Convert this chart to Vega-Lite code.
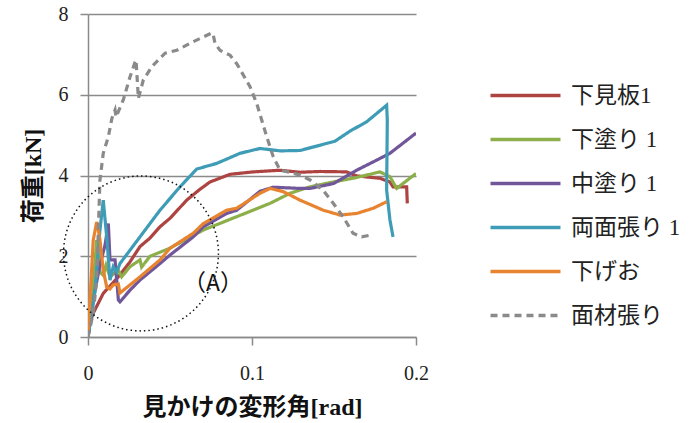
{
  "$schema": "https://vega.github.io/schema/vega-lite/v6.json",
  "autosize": "none",
  "width": 328,
  "height": 323,
  "padding": {"left": 88, "top": 14, "right": 276, "bottom": 86},
  "background": "white",
  "config": {
    "view": {"stroke": null},
    "axis": {
      "labelFont": "Liberation Serif",
      "labelFontSize": 20,
      "labelColor": "#222",
      "titleFont": "Liberation Serif, Noto Sans CJK JP",
      "titleFontSize": 24,
      "titleFontWeight": "bold",
      "titleColor": "#111",
      "domainColor": "#8a8a8a",
      "domainWidth": 1.5,
      "tickColor": "#8a8a8a",
      "tickWidth": 1.5,
      "tickSize": 8,
      "gridColor": "#8a8a8a",
      "gridWidth": 1.5
    }
  },
  "datasets": {
    "curves": [
      {"s":"下見板1","i":0,"x":0,"y":0},
      {"s":"下見板1","i":1,"x":0.0012,"y":0.35},
      {"s":"下見板1","i":2,"x":0.0032,"y":0.59},
      {"s":"下見板1","i":3,"x":0.0093,"y":1.08},
      {"s":"下見板1","i":4,"x":0.0185,"y":1.49},
      {"s":"下見板1","i":5,"x":0.0256,"y":1.86},
      {"s":"下見板1","i":6,"x":0.0317,"y":2.24},
      {"s":"下見板1","i":7,"x":0.0378,"y":2.45},
      {"s":"下見板1","i":8,"x":0.0439,"y":2.73},
      {"s":"下見板1","i":9,"x":0.05,"y":2.94},
      {"s":"下見板1","i":10,"x":0.0602,"y":3.39},
      {"s":"下見板1","i":11,"x":0.0683,"y":3.66},
      {"s":"下見板1","i":12,"x":0.0744,"y":3.84},
      {"s":"下見板1","i":13,"x":0.0866,"y":4.03},
      {"s":"下見板1","i":14,"x":0.1008,"y":4.09},
      {"s":"下見板1","i":15,"x":0.1171,"y":4.13},
      {"s":"下見板1","i":16,"x":0.1293,"y":4.08},
      {"s":"下見板1","i":17,"x":0.1415,"y":4.1},
      {"s":"下見板1","i":18,"x":0.1577,"y":4.09},
      {"s":"下見板1","i":19,"x":0.1638,"y":3.99},
      {"s":"下見板1","i":20,"x":0.178,"y":3.93},
      {"s":"下見板1","i":21,"x":0.1841,"y":3.84},
      {"s":"下見板1","i":22,"x":0.186,"y":3.72},
      {"s":"下見板1","i":23,"x":0.1943,"y":3.72},
      {"s":"下見板1","i":24,"x":0.1947,"y":3.31},

      {"s":"下塗り 1","i":0,"x":0,"y":0},
      {"s":"下塗り 1","i":1,"x":0.0024,"y":0.92},
      {"s":"下塗り 1","i":2,"x":0.0053,"y":2.4},
      {"s":"下塗り 1","i":3,"x":0.0073,"y":1.61},
      {"s":"下塗り 1","i":4,"x":0.0093,"y":1.53},
      {"s":"下塗り 1","i":5,"x":0.011,"y":1.78},
      {"s":"下塗り 1","i":6,"x":0.0134,"y":1.49},
      {"s":"下塗り 1","i":7,"x":0.0185,"y":1.66},
      {"s":"下塗り 1","i":8,"x":0.0205,"y":1.49},
      {"s":"下塗り 1","i":9,"x":0.0256,"y":1.74},
      {"s":"下塗り 1","i":10,"x":0.0317,"y":1.91},
      {"s":"下塗り 1","i":11,"x":0.0327,"y":1.73},
      {"s":"下塗り 1","i":12,"x":0.0378,"y":2.0},
      {"s":"下塗り 1","i":13,"x":0.0439,"y":2.1},
      {"s":"下塗り 1","i":14,"x":0.05,"y":2.2},
      {"s":"下塗り 1","i":15,"x":0.0703,"y":2.65},
      {"s":"下塗り 1","i":16,"x":0.0907,"y":2.98},
      {"s":"下塗り 1","i":17,"x":0.111,"y":3.31},
      {"s":"下塗り 1","i":18,"x":0.1232,"y":3.56},
      {"s":"下塗り 1","i":19,"x":0.1354,"y":3.72},
      {"s":"下塗り 1","i":20,"x":0.1496,"y":3.84},
      {"s":"下塗り 1","i":21,"x":0.1638,"y":3.95},
      {"s":"下塗り 1","i":22,"x":0.178,"y":4.09},
      {"s":"下塗り 1","i":23,"x":0.1841,"y":3.97},
      {"s":"下塗り 1","i":24,"x":0.1882,"y":3.68},
      {"s":"下塗り 1","i":25,"x":0.1933,"y":3.84},
      {"s":"下塗り 1","i":26,"x":0.2,"y":4.05},

      {"s":"中塗り 1","i":0,"x":0,"y":0},
      {"s":"中塗り 1","i":1,"x":0.0043,"y":1.16},
      {"s":"中塗り 1","i":2,"x":0.0073,"y":1.78},
      {"s":"中塗り 1","i":3,"x":0.0104,"y":2.28},
      {"s":"中塗り 1","i":4,"x":0.0124,"y":2.81},
      {"s":"中塗り 1","i":5,"x":0.0134,"y":1.91},
      {"s":"中塗り 1","i":6,"x":0.0165,"y":1.91},
      {"s":"中塗り 1","i":7,"x":0.0185,"y":0.92},
      {"s":"中塗り 1","i":8,"x":0.0195,"y":0.87},
      {"s":"中塗り 1","i":9,"x":0.0256,"y":1.16},
      {"s":"中塗り 1","i":10,"x":0.0317,"y":1.41},
      {"s":"中塗り 1","i":11,"x":0.0439,"y":1.82},
      {"s":"中塗り 1","i":12,"x":0.05,"y":2.03},
      {"s":"中塗り 1","i":13,"x":0.0642,"y":2.48},
      {"s":"中塗り 1","i":14,"x":0.0703,"y":2.73},
      {"s":"中塗り 1","i":15,"x":0.0846,"y":3.06},
      {"s":"中塗り 1","i":16,"x":0.0907,"y":3.14},
      {"s":"中塗り 1","i":17,"x":0.1049,"y":3.61},
      {"s":"中塗り 1","i":18,"x":0.113,"y":3.71},
      {"s":"中塗り 1","i":19,"x":0.1293,"y":3.68},
      {"s":"中塗り 1","i":20,"x":0.1354,"y":3.68},
      {"s":"中塗り 1","i":21,"x":0.1496,"y":3.8},
      {"s":"中塗り 1","i":22,"x":0.1638,"y":4.13},
      {"s":"中塗り 1","i":23,"x":0.176,"y":4.38},
      {"s":"中塗り 1","i":24,"x":0.1841,"y":4.55},
      {"s":"中塗り 1","i":25,"x":0.2,"y":5.05},

      {"s":"両面張り 1","i":0,"x":0,"y":0},
      {"s":"両面張り 1","i":1,"x":0.0043,"y":1.16},
      {"s":"両面張り 1","i":2,"x":0.0073,"y":2.65},
      {"s":"両面張り 1","i":3,"x":0.0093,"y":3.39},
      {"s":"両面張り 1","i":4,"x":0.0114,"y":2.48},
      {"s":"両面張り 1","i":5,"x":0.0134,"y":1.41},
      {"s":"両面張り 1","i":6,"x":0.0154,"y":1.74},
      {"s":"両面張り 1","i":7,"x":0.0175,"y":1.61},
      {"s":"両面張り 1","i":8,"x":0.0195,"y":1.82},
      {"s":"両面張り 1","i":9,"x":0.0256,"y":2.15},
      {"s":"両面張り 1","i":10,"x":0.0317,"y":2.48},
      {"s":"両面張り 1","i":11,"x":0.0439,"y":3.14},
      {"s":"両面張り 1","i":12,"x":0.0561,"y":3.72},
      {"s":"両面張り 1","i":13,"x":0.0663,"y":4.16},
      {"s":"両面張り 1","i":14,"x":0.0785,"y":4.3},
      {"s":"両面張り 1","i":15,"x":0.0927,"y":4.55},
      {"s":"両面張り 1","i":16,"x":0.1049,"y":4.67},
      {"s":"両面張り 1","i":17,"x":0.1171,"y":4.61},
      {"s":"両面張り 1","i":18,"x":0.1293,"y":4.62},
      {"s":"両面張り 1","i":19,"x":0.1415,"y":4.75},
      {"s":"両面張り 1","i":20,"x":0.1506,"y":4.85},
      {"s":"両面張り 1","i":21,"x":0.1598,"y":5.1},
      {"s":"両面張り 1","i":22,"x":0.1699,"y":5.33},
      {"s":"両面張り 1","i":23,"x":0.1821,"y":5.74},
      {"s":"両面張り 1","i":24,"x":0.1825,"y":5.37},
      {"s":"両面張り 1","i":25,"x":0.1821,"y":3.64},
      {"s":"両面張り 1","i":26,"x":0.1841,"y":2.9},
      {"s":"両面張り 1","i":27,"x":0.186,"y":2.48},

      {"s":"下げお","i":0,"x":0,"y":0},
      {"s":"下げお","i":1,"x":0.0012,"y":0.92},
      {"s":"下げお","i":2,"x":0.0032,"y":2.4},
      {"s":"下げお","i":3,"x":0.0053,"y":2.85},
      {"s":"下げお","i":4,"x":0.0063,"y":2.65},
      {"s":"下げお","i":5,"x":0.0073,"y":2.4},
      {"s":"下げお","i":6,"x":0.0093,"y":1.66},
      {"s":"下げお","i":7,"x":0.0114,"y":1.24},
      {"s":"下げお","i":8,"x":0.0134,"y":1.19},
      {"s":"下げお","i":9,"x":0.0154,"y":1.29},
      {"s":"下げお","i":10,"x":0.0185,"y":1.31},
      {"s":"下げお","i":11,"x":0.0195,"y":1.09},
      {"s":"下げお","i":12,"x":0.0256,"y":1.29},
      {"s":"下げお","i":13,"x":0.0317,"y":1.49},
      {"s":"下げお","i":14,"x":0.0439,"y":1.91},
      {"s":"下げお","i":15,"x":0.05,"y":2.2},
      {"s":"下げお","i":16,"x":0.0642,"y":2.57},
      {"s":"下げお","i":17,"x":0.0703,"y":2.81},
      {"s":"下げお","i":18,"x":0.0846,"y":3.14},
      {"s":"下げお","i":19,"x":0.0907,"y":3.19},
      {"s":"下げお","i":20,"x":0.1049,"y":3.56},
      {"s":"下げお","i":21,"x":0.111,"y":3.68},
      {"s":"下げお","i":22,"x":0.1191,"y":3.6},
      {"s":"下げお","i":23,"x":0.1293,"y":3.39},
      {"s":"下げお","i":24,"x":0.1435,"y":3.14},
      {"s":"下げお","i":25,"x":0.1537,"y":3.02},
      {"s":"下げお","i":26,"x":0.1638,"y":3.06},
      {"s":"下げお","i":27,"x":0.174,"y":3.19},
      {"s":"下げお","i":28,"x":0.1821,"y":3.35},

      {"s":"面材張り","i":0,"x":0,"y":0},
      {"s":"面材張り","i":1,"x":0.0032,"y":0.59},
      {"s":"面材張り","i":2,"x":0.0053,"y":1.41},
      {"s":"面材張り","i":3,"x":0.0073,"y":3.89},
      {"s":"面材張り","i":4,"x":0.0093,"y":4.55},
      {"s":"面材張り","i":5,"x":0.0124,"y":4.96},
      {"s":"面材張り","i":6,"x":0.0146,"y":5.42},
      {"s":"面材張り","i":7,"x":0.0165,"y":5.62},
      {"s":"面材張り","i":8,"x":0.0171,"y":5.45},
      {"s":"面材張り","i":9,"x":0.0215,"y":5.87},
      {"s":"面材張り","i":10,"x":0.0256,"y":6.44},
      {"s":"面材張り","i":11,"x":0.0287,"y":6.81},
      {"s":"面材張り","i":12,"x":0.0293,"y":6.86},
      {"s":"面材張り","i":13,"x":0.0307,"y":5.91},
      {"s":"面材張り","i":14,"x":0.0337,"y":6.36},
      {"s":"面材張り","i":15,"x":0.0388,"y":6.69},
      {"s":"面材張り","i":16,"x":0.047,"y":7.03},
      {"s":"面材張り","i":17,"x":0.0541,"y":7.1},
      {"s":"面材張り","i":18,"x":0.064,"y":7.31},
      {"s":"面材張り","i":19,"x":0.0754,"y":7.53},
      {"s":"面材張り","i":20,"x":0.0762,"y":7.52},
      {"s":"面材張り","i":21,"x":0.0774,"y":7.28},
      {"s":"面材張り","i":22,"x":0.0805,"y":7.1},
      {"s":"面材張り","i":23,"x":0.0866,"y":6.98},
      {"s":"面材張り","i":24,"x":0.0907,"y":6.77},
      {"s":"面材張り","i":25,"x":0.0988,"y":6.2},
      {"s":"面材張り","i":26,"x":0.1029,"y":5.78},
      {"s":"面材張り","i":27,"x":0.109,"y":4.96},
      {"s":"面材張り","i":28,"x":0.113,"y":4.46},
      {"s":"面材張り","i":29,"x":0.1171,"y":4.13},
      {"s":"面材張り","i":30,"x":0.1232,"y":4.08},
      {"s":"面材張り","i":31,"x":0.1293,"y":4.01},
      {"s":"面材張り","i":32,"x":0.1354,"y":3.89},
      {"s":"面材張り","i":33,"x":0.1433,"y":3.64},
      {"s":"面材張り","i":34,"x":0.1494,"y":3.32},
      {"s":"面材張り","i":35,"x":0.1555,"y":2.98},
      {"s":"面材張り","i":36,"x":0.1616,"y":2.57},
      {"s":"面材張り","i":37,"x":0.1669,"y":2.48},
      {"s":"面材張り","i":38,"x":0.172,"y":2.52}
    ],
    "circle": [{"x": 0.0323, "y": 2.07}],
    "label": [{"x": 0.0762, "y": 1.31, "t": "（A）"}]
  },
  "layer": [
    {
      "data": {"name": "curves"},
      "mark": {"type": "line", "strokeWidth": 3.2, "clip": true},
      "encoding": {
        "x": {
          "field": "x", "type": "quantitative",
          "scale": {"domain": [0, 0.2], "nice": false, "zero": false},
          "axis": {"values": [0, 0.1, 0.2], "format": "~g", "grid": false, "title": "見かけの変形角[rad]", "labelFont": "Liberation Serif", "labelPadding": 18, "titlePadding": 12, "labelFlush": false}
        },
        "y": {
          "field": "y", "type": "quantitative",
          "scale": {"domain": [0, 8], "nice": false},
          "axis": {"values": [0, 2, 4, 6, 8], "grid": true, "title": "荷重[kN]", "labelFont": "Liberation Serif", "labelPadding": 12, "titlePadding": 13, "labelFlush": false}
        },
        "color": {
          "field": "s", "type": "nominal",
          "scale": {
            "domain": ["下見板1", "下塗り 1", "中塗り 1", "両面張り 1", "下げお", "面材張り"],
            "range": ["#AE4442", "#8DAF4A", "#71579A", "#3E9CB6", "#E8832F", "#8a8a8a"]
          },
          "legend": {
            "title": null,
            "orient": "none",
            "legendX": 426,
            "legendY": 70,
            "symbolType": "M-5,0H5",
            "symbolSize": 196,
            "symbolStrokeWidth": 3.5,
            "labelFont": "Liberation Serif, Noto Sans CJK JP",
            "labelFontSize": 23,
            "labelColor": "#222",
            "labelOffset": 34,
            "rowPadding": 20,
            "padding": 0
          }
        },
        "strokeDash": {
          "field": "s", "type": "nominal",
          "scale": {
            "domain": ["下見板1", "下塗り 1", "中塗り 1", "両面張り 1", "下げお", "面材張り"],
            "range": [[1, 0], [1, 0], [1, 0], [1, 0], [1, 0], [7, 5]]
          },
          "legend": {
            "title": null,
            "orient": "none",
            "legendX": 426,
            "legendY": 70,
            "symbolType": "M-5,0H5",
            "symbolSize": 196,
            "symbolStrokeWidth": 3.5,
            "labelFont": "Liberation Serif, Noto Sans CJK JP",
            "labelFontSize": 23,
            "labelColor": "#222",
            "labelOffset": 34,
            "rowPadding": 20,
            "padding": 0
          }
        },
        "order": {"field": "i", "type": "quantitative"}
      }
    },
    {
      "data": {"name": "circle"},
      "mark": {"type": "point", "shape": "circle", "filled": false, "size": 24000, "stroke": "#111", "strokeWidth": 1.5, "strokeDash": [1.5, 3], "opacity": 1},
      "encoding": {
        "x": {"field": "x", "type": "quantitative"},
        "y": {"field": "y", "type": "quantitative"}
      }
    },
    {
      "data": {"name": "label"},
      "mark": {"type": "text", "font": "Noto Sans CJK JP", "fontSize": 23, "color": "#111", "align": "center", "baseline": "middle"},
      "encoding": {
        "x": {"field": "x", "type": "quantitative"},
        "y": {"field": "y", "type": "quantitative"},
        "text": {"field": "t"}
      }
    }
  ]
}
